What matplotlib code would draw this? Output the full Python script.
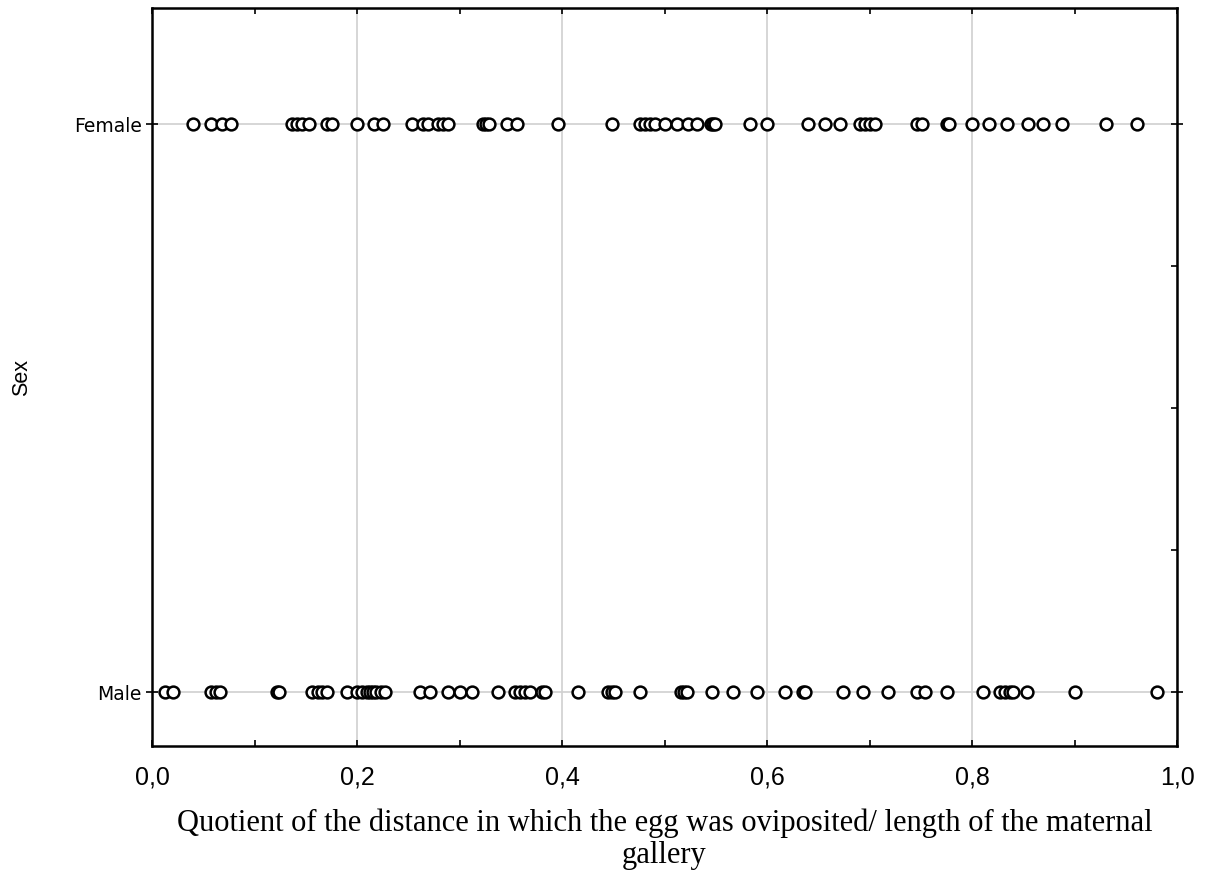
import numpy as np
import matplotlib
matplotlib.use("Agg")
import matplotlib.pyplot as plt
from matplotlib.ticker import MultipleLocator, FuncFormatter

categories = ["Male", "Female"]

female = [0.040, 0.058, 0.068, 0.077, 0.137, 0.141, 0.146, 0.153, 0.171, 0.176,
          0.200, 0.217, 0.225, 0.254, 0.264, 0.269, 0.279, 0.284, 0.289, 0.323,
          0.326, 0.329, 0.346, 0.356, 0.396, 0.449, 0.476, 0.481, 0.486, 0.491,
          0.500, 0.512, 0.523, 0.532, 0.545, 0.547, 0.549, 0.583, 0.600, 0.640,
          0.657, 0.671, 0.691, 0.696, 0.700, 0.705, 0.746, 0.751, 0.776, 0.778,
          0.800, 0.817, 0.834, 0.855, 0.869, 0.888, 0.931, 0.961]

male = [0.013, 0.020, 0.058, 0.062, 0.066, 0.122, 0.124, 0.156, 0.162, 0.166,
        0.171, 0.190, 0.200, 0.205, 0.210, 0.213, 0.216, 0.219, 0.223, 0.227,
        0.261, 0.271, 0.289, 0.300, 0.312, 0.338, 0.354, 0.359, 0.364, 0.369,
        0.380, 0.383, 0.416, 0.445, 0.449, 0.452, 0.476, 0.516, 0.519, 0.522,
        0.546, 0.567, 0.590, 0.618, 0.635, 0.637, 0.674, 0.694, 0.718, 0.746,
        0.754, 0.776, 0.811, 0.827, 0.832, 0.837, 0.840, 0.854, 0.900, 0.980]

fig = plt.figure(figsize=(12.05, 8.74), dpi=100)
ax = fig.add_axes([152 / 1205, 1 - 746 / 874, 1025 / 1205, 738 / 874])

for i, vals in enumerate([male, female]):
    ax.plot(vals, np.full(len(vals), i), linestyle="none", marker="o",
            markersize=8.5, markerfacecolor="white", markeredgecolor="black",
            markeredgewidth=1.8, zorder=3)

ax.set_xlim(0, 1)
ax.set_ylim(-0.095, 1.205)

ax.xaxis.set_major_locator(MultipleLocator(0.2))
ax.xaxis.set_minor_locator(MultipleLocator(0.1))
ax.xaxis.set_major_formatter(FuncFormatter(lambda v, p: f"{v:.1f}".replace(".", ",")))
ax.set_yticks([0, 1])
ax.set_yticklabels(categories)
ax.yaxis.set_minor_locator(MultipleLocator(0.25))

ax.grid(True, which="major", color="#d0d0d0", linewidth=1.2, zorder=0)
ax.set_axisbelow(True)

ax.tick_params(axis="x", which="both", direction="in", top=True, bottom=True,
               length=4, width=1.2, pad=14, labelsize=18)
ax.tick_params(axis="y", which="major", direction="inout", left=True, right=True,
               length=8, width=1.2, labelsize=13.5)
ax.tick_params(axis="y", which="minor", direction="in", left=False, right=True,
               length=4, width=1.2)

for lab in ax.get_xticklabels():
    lab.set_family(["Liberation Sans Narrow", "Liberation Sans", "DejaVu Sans"])
for lab in ax.get_yticklabels():
    lab.set_family(["DejaVu Sans"])

for s in ax.spines.values():
    s.set_linewidth(1.8)

ax.set_xlabel("Quotient of the distance in which the egg was oviposited/ length of the maternal\ngallery",
              family=["Liberation Serif", "DejaVu Serif"], fontsize=22, labelpad=14,
              linespacing=1.1)
ax.set_ylabel("Sex", family=["Liberation Sans", "DejaVu Sans"], fontsize=15.5)
ax.yaxis.set_label_coords(-0.117, 0.5)

fig.savefig("out.png", dpi=100)
